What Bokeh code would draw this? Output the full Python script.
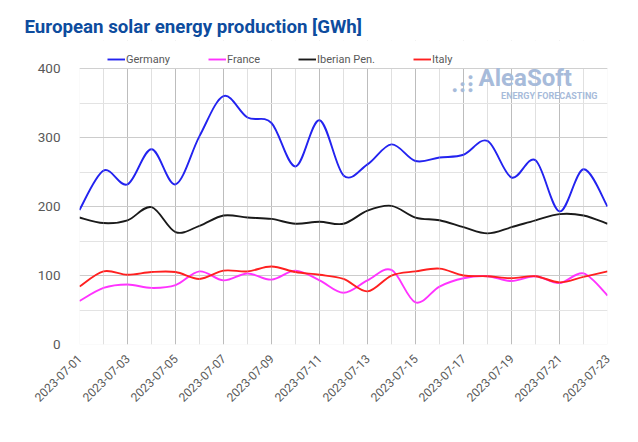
import numpy as np
from math import pi
from bokeh.plotting import figure
from bokeh.models import FixedTicker, Legend, LegendItem, Label, Range1d, BoxAnnotation
from bokeh.embed import file_html
from bokeh.resources import INLINE

dates = [f"2023-07-{d:02d}" for d in range(1, 24)]
germany = [195, 252, 232, 283, 232, 302, 360, 329, 321, 258, 325, 245, 261, 290, 266, 271, 275, 295, 242, 267, 193, 254, 200]
france = [63, 82, 87, 82, 86, 106, 93, 103, 94, 107, 93, 75, 93, 108, 61, 84, 96, 99, 92, 99, 89, 103, 71]
iberian = [184, 176, 180, 199, 163, 172, 187, 184, 182, 175, 178, 175, 194, 201, 184, 180, 170, 161, 170, 180, 189, 187, 175]
italy = [84, 106, 101, 105, 105, 95, 107, 106, 113, 105, 101, 95, 77, 100, 106, 110, 100, 99, 96, 99, 90, 98, 106]
y_ticks = [0, 100, 200, 300, 400]
y_minor = [50, 150, 250, 350]
y_max = 400

series = [("Germany", germany, "#2323f0"), ("France", france, "#ff33ff"),
          ("Iberian Pen.", iberian, "#1a1a1a"), ("Italy", italy, "#ff2020")]

xs = np.arange(len(dates), dtype=float)


def smooth(xv, yv):
    X = np.asarray(xv, float)
    Y = np.asarray(yv, float)
    n = len(X)
    out = dict(x0=[], y0=[], x1=[], y1=[], cx0=[], cy0=[], cx1=[], cy1=[])
    for i in range(n - 1):
        a = max(i - 1, 0)
        b = min(i + 2, n - 1)
        out["x0"].append(X[i]); out["y0"].append(Y[i])
        out["x1"].append(X[i + 1]); out["y1"].append(Y[i + 1])
        out["cx0"].append(X[i] + (X[i + 1] - X[a]) / 6)
        out["cy0"].append(Y[i] + (Y[i + 1] - Y[a]) / 6)
        out["cx1"].append(X[i + 1] - (X[b] - X[i]) / 6)
        out["cy1"].append(Y[i + 1] - (Y[b] - Y[i]) / 6)
    return out


# frame extends above 400 to host the legend row; that strip is masked white
p = figure(width=622, height=426, output_backend="svg", toolbar_location=None,
           x_range=Range1d(0, len(dates) - 1), y_range=Range1d(0, 440.6),
           min_border_left=79, min_border_right=15, min_border_bottom=82,
           min_border_top=40)

p.title.text = "European solar energy production [GWh]"
p.title.text_font = "Roboto"
p.title.text_font_size = "18.7px"
p.title.text_font_style = "bold"
p.title.text_color = "#0d4c9e"
p.title.align = "left"
p.title.offset = -55
p.title.standoff = 6

p.outline_line_color = None
p.background_fill_color = "white"

p.xaxis.ticker = FixedTicker(ticks=[float(v) for v in xs[::2]], minor_ticks=[float(v) for v in xs[1::2]])
p.yaxis.ticker = FixedTicker(ticks=y_ticks, minor_ticks=y_minor)
p.xgrid.grid_line_color = "#bdbdbd"
p.xgrid.minor_grid_line_color = "#e0e0e0"
p.ygrid.grid_line_color = "#cccccc"
p.ygrid.minor_grid_line_color = "#e3e3e3"

for ax in (p.xaxis, p.yaxis):
    ax.axis_line_color = None
    ax.major_tick_line_color = None
    ax.minor_tick_line_color = None
    ax.major_label_text_color = "#595959"
    ax.major_label_text_font = "Roboto"
p.yaxis.major_label_text_font_size = "13.5px"
p.yaxis.major_label_standoff = 13
p.xaxis.major_label_text_font_size = "12px"
p.xaxis.major_label_orientation = pi / 4
p.xaxis.major_label_standoff = 6
p.xaxis.major_label_overrides = {i: d for i, d in enumerate(dates)}

# plot-area border
p.add_layout(BoxAnnotation(left=0, right=len(dates) - 1, bottom=0, top=y_max,
                           fill_alpha=0, line_color="#d9d9d9", line_width=1,
                           level="underlay"))

items = []
for name, vals, col in series:
    d = smooth(xs, vals)
    r = p.bezier(source=d, x0="x0", y0="y0", x1="x1", y1="y1", cx0="cx0", cy0="cy0",
                 cx1="cx1", cy1="cy1", line_color=col, line_width=1.9)
    items.append(LegendItem(label=name, renderers=[r]))

# mask the strip above the value range
p.add_layout(BoxAnnotation(bottom=y_max + 0.8, fill_color="white", fill_alpha=1,
                           line_color=None))

legend = Legend(items=items, orientation="horizontal", location=(28, 277),
                label_text_font="Roboto", label_text_font_size="11px",
                label_text_color="#595959", glyph_width=18, label_standoff=1,
                spacing=38, padding=0, margin=0, border_line_color=None,
                background_fill_alpha=0, label_height=16, glyph_height=16)
p.add_layout(legend)

# watermark
wm = "#a7bbda"
p.add_layout(Label(x=16.63, y=365.6, text="AleaSoft", text_font="Roboto",
                   text_font_size="24px", text_font_style="bold", text_color=wm))
p.add_layout(Label(x=21.58, y=353, text="ENERGY FORECASTING", text_font="Roboto",
                   text_font_size="9px", text_font_style="bold", text_color=wm,
                   text_align="right"))
for dx, dy in [(16.29, 387), (16.29, 378), (16.29, 369), (15.96, 378), (15.96, 369), (15.63, 369)]:
    p.add_layout(Label(x=dx, y=dy, text="●", text_font_size="9px", text_color=wm,
                       text_align="center", text_baseline="middle"))

open("out.html", "w").write(file_html(p, INLINE))
